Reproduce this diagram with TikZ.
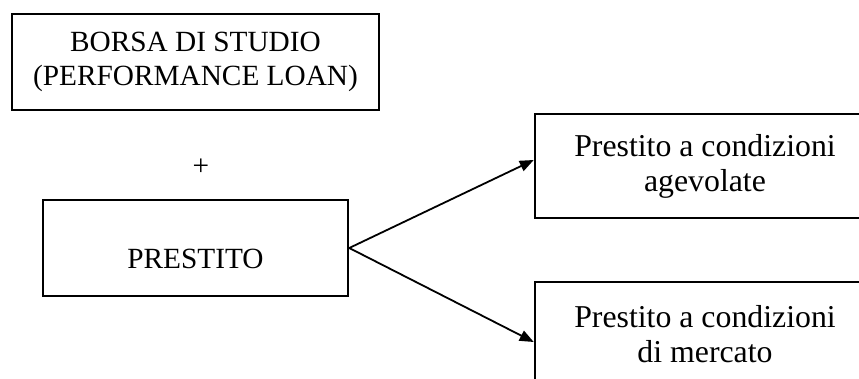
\documentclass[tikz,border=0pt]{standalone}
\usepackage{fontspec}
\setmainfont{Liberation Serif}
\usetikzlibrary{arrows.meta}
\begin{document}
\begin{tikzpicture}[x=1pt,y=-1pt,
  box/.style={draw=black,line width=2.5pt,align=center,inner sep=0pt,
    font=\fontsize{29.3}{34.5}\selectfont},
  bigbox/.style={box,font=\fontsize{31.8}{35}\selectfont},
  conn/.style={line width=1.8pt,-{Triangle[length=14pt,width=11pt]}},
  txt/.style={font=\fontsize{29.3}{35}\selectfont,inner sep=0pt}]
\clip (0,0) rectangle (859,379);
\fill[white] (0,0) rectangle (859,379);
\node[box,minimum width=367pt,minimum height=96pt] (borsa) at (195.5,62)
  {BORSA DI STUDIO\\(PERFORMANCE LOAN)};
\node[txt] (plus) at (201,167) {+};
\node[box,minimum width=305pt,minimum height=96pt] (prestito) at (195.5,248) {};
\node[txt,anchor=base] (prestitolbl) at (195.5,269) {PRESTITO};
\node[bigbox,minimum width=340pt,minimum height=104pt] (agev) at (705,166)
  {Prestito a condizioni\\agevolate};
\node[bigbox,minimum width=340pt,minimum height=104pt] (merc) at (705,334)
  {Prestito a condizioni\\di mercato};
\draw[conn] (prestito.east) -- ([yshift=6pt]agev.west);
\draw[conn] (prestito.east) -- ([yshift=-8pt]merc.west);
\end{tikzpicture}
\end{document}
